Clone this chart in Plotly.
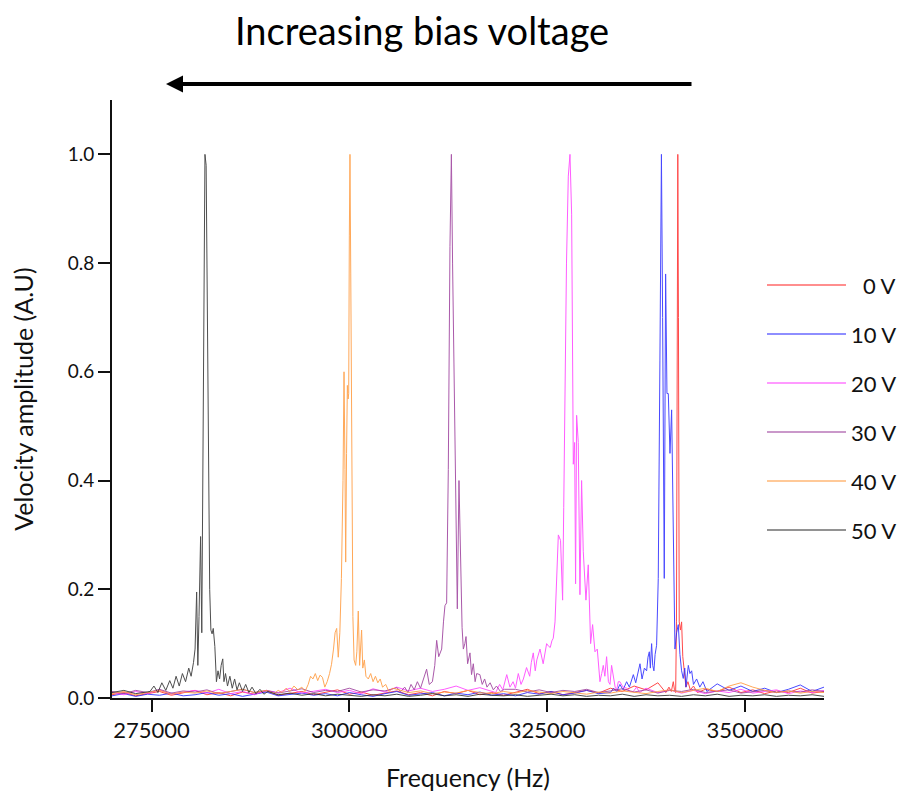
import plotly.graph_objects as go

# ---------------- data ----------------
series_names = ["0 V", "10 V", "20 V", "30 V", "40 V", "50 V"]
series_colors = ["#ff2a2a", "#2a2aff", "#ff40ff", "#9c3d9c", "#ff9a3c", "#303030"]

x_tickvals = [275000, 300000, 325000, 350000]
y_tickvals = [0.0, 0.2, 0.4, 0.6, 0.8, 1.0]

grid_freq = [
    270000, 271500, 273000, 274500, 276000, 277500, 279000, 280500, 282000, 283500,
    285000, 286500, 288000, 289500, 291000, 292500, 294000, 295500, 297000, 298500,
    300000, 301500, 303000, 304500, 306000, 307500, 309000, 310500, 312000, 313500,
    315000, 316500, 318000, 319500, 321000, 322500, 324000, 325500, 327000, 328500,
    330000, 331500, 333000, 334500, 336000, 337500, 339000, 340500, 342000, 343500,
    345000, 346500, 348000, 349500, 351000, 352500, 354000, 355500, 357000, 358500,
    360000]

base_0V = [
    0.006, 0.010, 0.004, 0.008, 0.012, 0.005, 0.009, 0.014, 0.006, 0.010,
    0.004, 0.011, 0.007, 0.013, 0.005, 0.009, 0.012, 0.006, 0.010, 0.015,
    0.007, 0.011, 0.005, 0.009, 0.013, 0.006, 0.010, 0.004, 0.012, 0.008,
    0.014, 0.006, 0.010, 0.005, 0.011, 0.016, 0.008, 0.012, 0.006, 0.010,
    0.014, 0.009, 0.018, 0.012, 0.022, 0.015, 0.028, 0.020, 0.014, 0.025,
    0.016, 0.012, 0.020, 0.010, 0.015, 0.008, 0.013, 0.010, 0.018, 0.009,
    0.012]
base_10V = [
    0.004, 0.008, 0.003, 0.007, 0.005, 0.009, 0.004, 0.006, 0.010, 0.005,
    0.008, 0.003, 0.007, 0.011, 0.004, 0.006, 0.009, 0.005, 0.008, 0.004,
    0.010, 0.006, 0.003, 0.008, 0.012, 0.005, 0.007, 0.010, 0.004, 0.009,
    0.006, 0.011, 0.005, 0.008, 0.004, 0.010, 0.007, 0.012, 0.006, 0.009,
    0.014, 0.008, 0.016, 0.012, 0.020, 0.018, 0.030, 0.025, 0.040, 0.030,
    0.020, 0.026, 0.014, 0.022, 0.012, 0.018, 0.010, 0.016, 0.024, 0.012,
    0.020]
base_20V = [
    0.010, 0.006, 0.012, 0.008, 0.015, 0.007, 0.011, 0.014, 0.009, 0.016,
    0.008, 0.012, 0.006, 0.014, 0.010, 0.018, 0.009, 0.013, 0.016, 0.010,
    0.014, 0.008, 0.017, 0.011, 0.020, 0.013, 0.018, 0.012, 0.016, 0.022,
    0.014, 0.019, 0.012, 0.020, 0.015, 0.025, 0.030, 0.045, 0.060, 0.080,
    0.050, 0.030, 0.020, 0.016, 0.012, 0.018, 0.010, 0.015, 0.009, 0.014,
    0.008, 0.013, 0.010, 0.016, 0.009, 0.012, 0.015, 0.008, 0.013, 0.010,
    0.014]
base_30V = [
    0.012, 0.008, 0.014, 0.010, 0.016, 0.009, 0.013, 0.011, 0.015, 0.008,
    0.012, 0.016, 0.010, 0.014, 0.009, 0.013, 0.017, 0.010, 0.014, 0.012,
    0.018, 0.011, 0.015, 0.013, 0.019, 0.015, 0.020, 0.030, 0.050, 0.060,
    0.040, 0.025, 0.018, 0.014, 0.016, 0.011, 0.015, 0.010, 0.014, 0.012,
    0.016, 0.010, 0.013, 0.017, 0.011, 0.015, 0.009, 0.014, 0.012, 0.016,
    0.010, 0.013, 0.015, 0.009, 0.012, 0.014, 0.010, 0.013, 0.011, 0.015,
    0.012]
base_40V = [
    0.008, 0.012, 0.006, 0.010, 0.014, 0.007, 0.011, 0.009, 0.013, 0.008,
    0.012, 0.016, 0.010, 0.014, 0.012, 0.018, 0.015, 0.020, 0.030, 0.060,
    0.080, 0.050, 0.030, 0.020, 0.016, 0.010, 0.013, 0.008, 0.011, 0.009,
    0.014, 0.010, 0.008, 0.012, 0.009, 0.014, 0.011, 0.008, 0.012, 0.010,
    0.007, 0.011, 0.009, 0.013, 0.010, 0.008, 0.012, 0.015, 0.010, 0.014,
    0.018, 0.012, 0.022, 0.028, 0.020, 0.014, 0.010, 0.013, 0.009, 0.012,
    0.010]
base_50V = [
    0.010, 0.014, 0.008, 0.012, 0.020, 0.030, 0.045, 0.060, 0.100, 0.060,
    0.030, 0.020, 0.012, 0.010, 0.006, 0.009, 0.005, 0.008, 0.004, 0.007,
    0.005, 0.003, 0.006, 0.004, 0.007, 0.003, 0.005, 0.008, 0.004, 0.006,
    0.003, 0.007, 0.005, 0.004, 0.006, 0.003, 0.005, 0.007, 0.004, 0.006,
    0.003, 0.005, 0.004, 0.007, 0.003, 0.006, 0.004, 0.005, 0.003, 0.006,
    0.004, 0.007, 0.003, 0.005, 0.004, 0.006, 0.003, 0.005, 0.004, 0.006,
    0.003]

# resonance regions (frequency in Hz, normalised amplitude)
peak_freq_0V = [340000, 340400, 340700, 340950, 341100, 341250, 341350, 341450, 341520,
                341600, 341700, 341850, 342000, 342150, 342350, 342550, 342800, 343100,
                343500, 344000]
peak_amp_0V = [0.010, 0.020, 0.012, 0.030, 0.015, 0.010, 0.140, 0.600, 1.000,
               0.700, 0.140, 0.125, 0.140, 0.076, 0.040, 0.020, 0.030, 0.015,
               0.022, 0.010]

peak_freq_10V = [333000, 333400, 333800, 334200, 334600, 335050, 335400, 335900, 336200,
                 336500, 336740, 337000, 337300, 337580, 337750, 337920, 338050, 338210,
                 338350, 338500, 338650, 338840, 339050, 339260, 339450, 339600, 339690,
                 339810, 339980, 340150, 340320, 340530, 340740, 340950, 341160, 341370,
                 341580, 341790, 342000, 342210, 342400, 342550, 342850, 343050, 343270,
                 343500, 343900, 344300, 344700, 345200, 345700]
peak_amp_10V = [0.010, 0.018, 0.012, 0.025, 0.015, 0.030, 0.020, 0.043, 0.028,
                0.045, 0.063, 0.035, 0.055, 0.050, 0.075, 0.085, 0.055, 0.100,
                0.060, 0.050, 0.080, 0.097, 0.220, 0.620, 1.000, 0.700, 0.490,
                0.220, 0.780, 0.560, 0.560, 0.450, 0.530, 0.290, 0.090, 0.120,
                0.135, 0.080, 0.050, 0.036, 0.055, 0.020, 0.060, 0.045, 0.050,
                0.025, 0.035, 0.020, 0.030, 0.012, 0.018]

peak_freq_20V = [318500, 319000, 319400, 319900, 320300, 320700, 321000, 321360, 321700,
                 322000, 322400, 322800, 323000, 323250, 323500, 323700, 324100, 324500,
                 324700, 324940, 325200, 325400, 325600, 325780, 326000, 326200, 326420,
                 326700, 326960, 327100, 327260, 327450, 327680, 327890, 328100, 328310,
                 328480, 328600, 328730, 328940, 329150, 329360, 329570, 329910, 330200,
                 330500, 330750, 331050, 331340, 331680, 331900, 332100, 332300, 332520,
                 332750, 332950, 333150, 333370, 333600, 333790, 334000, 334200, 334600,
                 335050, 335500, 335900, 336300, 336700]
peak_amp_20V = [0.010, 0.025, 0.015, 0.043, 0.020, 0.030, 0.018, 0.045, 0.025,
                0.035, 0.056, 0.040, 0.065, 0.083, 0.050, 0.070, 0.090, 0.063,
                0.080, 0.100, 0.095, 0.093, 0.105, 0.110, 0.140, 0.220, 0.300,
                0.290, 0.180, 0.350, 0.620, 0.800, 0.960, 1.000, 0.890, 0.430,
                0.470, 0.210, 0.520, 0.470, 0.190, 0.400, 0.270, 0.180, 0.245,
                0.100, 0.135, 0.085, 0.090, 0.030, 0.045, 0.060, 0.040, 0.076,
                0.030, 0.025, 0.060, 0.040, 0.020, 0.015, 0.030, 0.030, 0.020,
                0.018, 0.012, 0.012, 0.020, 0.010]

peak_freq_30V = [306500, 307000, 307400, 307800, 308200, 308600, 309000, 309400, 309770,
                 310100, 310500, 310800, 311040, 311300, 311500, 311670, 311900, 312090,
                 312300, 312510, 312720, 312900, 313050, 313150, 313350, 313500, 313650,
                 313860, 314070, 314250, 314410, 314600, 314750, 314950, 315250, 315450,
                 315670, 315900, 316100, 316500, 316800, 317100, 317400, 317800, 318200,
                 318600, 319100, 319600]
peak_amp_30V = [0.012, 0.020, 0.010, 0.025, 0.015, 0.030, 0.018, 0.035, 0.053,
                0.025, 0.030, 0.060, 0.106, 0.076, 0.085, 0.090, 0.140, 0.170,
                0.175, 0.420, 0.830, 1.000, 0.800, 0.690, 0.390, 0.230, 0.164,
                0.400, 0.220, 0.130, 0.090, 0.100, 0.113, 0.063, 0.083, 0.043,
                0.063, 0.030, 0.045, 0.043, 0.025, 0.035, 0.020, 0.028, 0.015,
                0.022, 0.012, 0.016]

peak_freq_40V = [290500, 291000, 291500, 292000, 292500, 293000, 293500, 294000, 294400,
                 294800, 295100, 295400, 295700, 296000, 296300, 296600, 296900, 297200,
                 297500, 297750, 298000, 298200, 298400, 298600, 298800, 299000, 299200,
                 299330, 299450, 299540, 299650, 299750, 299850, 299920, 300000, 300080,
                 300180, 300290, 300450, 300600, 300800, 300950, 301130, 301300, 301450,
                 301550, 301700, 301900, 302100, 302400, 302700, 303000, 303300, 303600,
                 303900, 304200, 304600, 305000, 305500]
peak_amp_40V = [0.008, 0.014, 0.010, 0.018, 0.012, 0.022, 0.015, 0.020, 0.012,
                0.025, 0.040, 0.035, 0.045, 0.032, 0.042, 0.038, 0.020, 0.030,
                0.045, 0.062, 0.090, 0.120, 0.128, 0.075, 0.120, 0.220, 0.400,
                0.600, 0.420, 0.250, 0.450, 0.575, 0.550, 0.560, 0.850, 1.000,
                0.780, 0.420, 0.150, 0.070, 0.060, 0.085, 0.160, 0.060, 0.100,
                0.125, 0.055, 0.070, 0.040, 0.035, 0.045, 0.030, 0.040, 0.028,
                0.035, 0.020, 0.025, 0.012, 0.018]

peak_freq_50V = [274800, 275300, 275800, 276300, 276800, 277300, 277700, 278100, 278500,
                 278900, 279300, 279700, 280000, 280300, 280500, 280700, 280850, 281000,
                 281200, 281350, 281500, 281650, 281750, 281900, 282050, 282200, 282350,
                 282500, 282650, 282800, 283000, 283200, 283400, 283600, 283800, 284000,
                 284150, 284350, 284600, 284900, 285200, 285500, 285800, 286100, 286500,
                 286900, 287300, 287700, 288200, 288700, 289200, 289700]
peak_amp_50V = [0.012, 0.022, 0.010, 0.028, 0.014, 0.032, 0.018, 0.040, 0.022,
                0.045, 0.030, 0.055, 0.040, 0.065, 0.090, 0.195, 0.060, 0.150,
                0.297, 0.120, 0.450, 0.850, 1.000, 0.980, 0.720, 0.450, 0.200,
                0.125, 0.118, 0.128, 0.095, 0.030, 0.050, 0.035, 0.060, 0.072,
                0.030, 0.045, 0.022, 0.040, 0.018, 0.035, 0.015, 0.028, 0.012,
                0.025, 0.010, 0.020, 0.008, 0.016, 0.007, 0.012]

base_list = [base_0V, base_10V, base_20V, base_30V, base_40V, base_50V]
peak_f_list = [peak_freq_0V, peak_freq_10V, peak_freq_20V, peak_freq_30V, peak_freq_40V, peak_freq_50V]
peak_a_list = [peak_amp_0V, peak_amp_10V, peak_amp_20V, peak_amp_30V, peak_amp_40V, peak_amp_50V]


def build(grid_f, grid_a, pk_f, pk_a):
    lo, hi = pk_f[0], pk_f[-1]
    pts = [(f, a) for f, a in zip(grid_f, grid_a) if f < lo or f > hi]
    pts += list(zip(pk_f, pk_a))
    pts.sort()
    return [p[0] for p in pts], [p[1] for p in pts]


# ---------------- figure ----------------
# The page has an 8px body margin, so figure pixel = page pixel - 8.
OFF = 8
W, H = 907 - 2 * OFF, 800 - 2 * OFF
PL, PR, PT, PB = 112 - OFF, 824 - OFF, 100 - OFF, 698 - OFF  # plot area (figure px)
FONT = "Lato, 'Open Sans', sans-serif"


def px(page_x):
    return (page_x - OFF - PL) / (PR - PL)


def py(page_y):
    return (PB - (page_y - OFF)) / (PB - PT)


fig = go.Figure()
for name, col, b, pf, pa in zip(series_names, series_colors, base_list, peak_f_list, peak_a_list):
    fx, fy = build(grid_freq, b, pf, pa)
    fig.add_trace(go.Scatter(x=fx, y=fy, mode="lines", name=name,
                             line=dict(color=col, width=1), opacity=0.85,
                             showlegend=False))

# manual legend (long line samples, right-aligned labels)
legend_rows_y = [285, 334, 383, 432, 481, 530]
shapes = []
annotations = []
for name, col, ry in zip(series_names, series_colors, legend_rows_y):
    shapes.append(dict(type="line", xref="paper", yref="paper",
                       x0=px(767), x1=px(846), y0=py(ry), y1=py(ry),
                       line=dict(color=col, width=1.3), opacity=0.7))
    annotations.append(dict(xref="paper", yref="paper", x=px(898), y=py(ry),
                            xanchor="right", yanchor="middle", text=name,
                            showarrow=False, font=dict(family=FONT, size=22, color="#111")))

# heading + arrow
annotations.append(dict(xref="paper", yref="paper", x=px(422), y=py(30),
                        xanchor="center", yanchor="middle",
                        text="Increasing bias voltage", showarrow=False,
                        font=dict(family=FONT, size=38, color="#000")))
annotations.append(dict(xref="paper", yref="paper", x=px(166), y=py(84),
                        ax=693 - 166, ay=0, text="", showarrow=True,
                        arrowhead=2, arrowsize=0.85, arrowwidth=4, arrowcolor="#000"))

fig.update_layout(
    width=W, height=H,
    margin=dict(l=PL, r=W - PR, t=PT, b=H - PB, autoexpand=False),
    paper_bgcolor="white", plot_bgcolor="white",
    font=dict(family=FONT, color="#111"),
    shapes=shapes, annotations=annotations,
    showlegend=False,
)
fig.update_xaxes(
    range=[270000, 360000], tickvals=x_tickvals, tickformat="d",
    showline=True, linecolor="#111", linewidth=2, mirror=False,
    ticks="outside", ticklen=12, tickwidth=2, tickcolor="#111",
    tickfont=dict(family=FONT, size=22, color="#111"),
    showgrid=False, zeroline=False, automargin=False,
    title=dict(text="Frequency (Hz)", font=dict(family=FONT, size=25, color="#111"), standoff=30),
)
fig.update_yaxes(
    range=[0, 1.1], tickvals=y_tickvals, tickformat=".1f",
    showline=True, linecolor="#111", linewidth=2,
    ticks="outside", ticklen=12, tickwidth=2, tickcolor="#111",
    tickfont=dict(family=FONT, size=19, color="#111"),
    showgrid=False, zeroline=False, automargin=False,
    title=dict(text="Velocity amplitude (A.U)", font=dict(family=FONT, size=25, color="#111"), standoff=31),
)

fig.write_html("out.html")
